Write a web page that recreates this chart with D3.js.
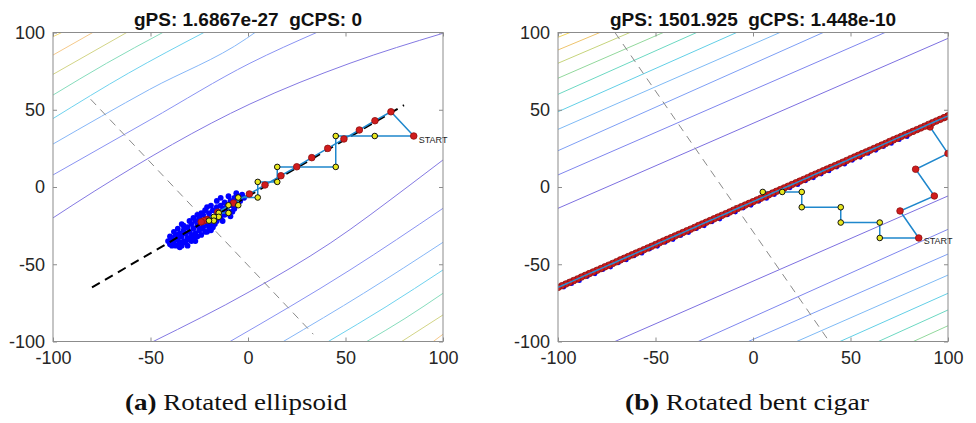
<!DOCTYPE html>
<html>
<head>
<meta charset="utf-8">
<script src="https://cdn.jsdelivr.net/npm/d3@7"></script>
<style>
  body { margin: 0; background: #fff; }
  svg text { font-family: "Liberation Sans", Arial, Helvetica, sans-serif; }
</style>
</head>
<body>
<svg id="chart" width="976" height="423"></svg>
<script>
// ---------- data ----------
const ticks = [-100, -50, 0, 50, 100];

const leftTitle = "gPS: 1.6867e-27  gCPS: 0";
const rightTitle = "gPS: 1501.925  gCPS: 1.448e-10";
const leftCaption = ["(a)", " Rotated ellipsoid"];
const rightCaption = ["(b)", " Rotated bent cigar"];

// contour lines: [level, points]
const leftContours = [
  [0, [[-100, -20], [-78.5, -2.5], [1, 53.7], [52.3, 80.1], [100, 99.5]]],
  [1, [[-100, 7.8], [-50.3, 43.4], [1, 80.1], [35.2, 100]]],
  [2, [[-100, 27.8], [-50.4, 63.2], [-0.7, 96.2], [3.6, 100]]],
  [3, [[-100, 44.3], [-61.4, 73.6], [-22.6, 100]]],
  [4, [[-100, 59.5], [-72.5, 80.1], [-43.7, 100]]],
  [5, [[-100, 72.9], [-62.2, 100]]],
  [6, [[-100, 85.4], [-79.6, 100]]],
  [7, [[-100, 97.3], [-95.5, 100]]],
  [0, [[-48.6, -100], [1, -67.6], [42.1, -36.4], [83.1, 1.3], [100, 17.5]]],
  [1, [[-9.2, -100], [52.3, -53.7], [100, -13.8]]],
  [2, [[18.1, -100], [59.3, -68.8], [100, -35.8]]],
  [3, [[41.2, -100], [70.8, -77.5], [100, -53.7]]],
  [4, [[60.9, -100], [80.5, -85.1], [100, -68.8]]],
  [5, [[78.8, -100], [100, -82.8]]],
  [6, [[95, -100], [100, -95.3]]]
];
const leftColors = ["#8479e2", "#8a93f2", "#86b6f7", "#6fd2ee", "#86dcbc", "#d2d486", "#f5c98a", "#f3dc7a"];

const rightContours = [
  [0, [[-100, -13.8], [100, 96.2]]],
  [1, [[-100, 7.8], [67.7, 100]]],
  [2, [[-100, 23.5], [36, 100]]],
  [3, [[-100, 37.3], [13.8, 100]]],
  [4, [[-100, 48.7], [-8.4, 100]]],
  [5, [[-100, 60], [-28.9, 100]]],
  [6, [[-100, 70.4], [-46, 100]]],
  [7, [[-100, 80.1], [-63.1, 100]]],
  [8, [[-100, 88.7], [-78.5, 100]]],
  [9, [[-100, 96.9], [-93.8, 100]]],
  [0, [[-70.8, -100], [100, -5.8]]],
  [1, [[-28.1, -100], [100, -27.4]]],
  [2, [[-2.4, -100], [100, -43.4]]],
  [3, [[22.4, -100], [100, -57]]],
  [4, [[44.6, -100], [100, -68.8]]],
  [5, [[64.3, -100], [100, -79.6]]],
  [6, [[82.2, -100], [100, -89.8]]]
];
const rightColors = ["#7d70e0", "#7f86ee", "#7e9ff5", "#7ebaf5", "#62cfe6", "#6cd8c2", "#92d89c", "#c6d47c", "#eec46c", "#f2d65c"];

// dashed guide lines
const leftAxisLine = [[-80, -65], [80, 53]];
const leftPerpLine = [[-80.7, 56.8], [33.5, -95.3]];
const rightPerpLine = [[-70.8, 100], [39.1, -100]];

// left: search paths
const leftStart = [85, 33];
const leftRedPath = [[85, 33], [73.3, 48.7], [65.1, 42.9], [57.1, 36.9], [49.2, 31.1], [40.9, 25.0],
  [32.7, 19.0], [25.0, 13.1], [16.9, 7.3], [8.7, 1.3], [0.7, -4.5], [-7.4, -10.4], [-15.5, -16.3],
  [-21, -21], [-22.5, -21.8], [-24, -22.6]];
const leftYellowPath = [[85, 33], [65, 33], [45, 33], [45, 13], [15, 13], [15, 3.3], [5, 3.3], [5, -6.8],
  [-5, -6.8], [-5, -11.8], [-10, -11.8], [-10, -16.8], [-15, -16.8], [-15, -19.3], [-17.5, -19.3],
  [-17.5, -21.8], [-20, -21.8]];
const leftCloud = [
  [-41, -35], [-40, -37], [-39, -33], [-38, -36], [-37, -31], [-37, -38], [-36, -34], [-35, -30],
  [-35, -36], [-34, -32], [-33, -28], [-33, -35], [-32, -30], [-31, -33], [-31, -26], [-30, -29],
  [-29, -31], [-29, -24], [-28, -27], [-27, -30], [-27, -22], [-26, -25], [-26, -32], [-25, -20],
  [-25, -28], [-24, -23], [-23, -26], [-23, -18], [-22, -21], [-21, -29], [-21, -24], [-20, -17],
  [-20, -20], [-19, -23], [-18, -15], [-18, -26], [-17, -19], [-16, -22], [-16, -13], [-15, -17],
  [-14, -20], [-14, -12], [-13, -15], [-12, -18], [-12, -10], [-11, -13], [-10, -16], [-9, -9],
  [-8, -12], [-7, -7], [-7, -14], [-6, -10], [-5, -6], [-4, -9], [-3, -5], [-36, -33], [-30, -34],
  [-24, -27], [-33, -25], [-28, -20], [-39, -38], [-34, -38], [-32, -36], [-29, -35], [-19, -12],
  [-22, -15], [-26, -18], [-36, -27], [-34, -24], [-30, -22], [-28, -33], [-24, -31], [-22, -29],
  [-20, -26], [-17, -24], [-24, -17], [-21, -13], [-14, -7], [-10, -6], [-13, -22], [-9, -19],
  [-38, -29], [-40, -32], [-35, -39], [-31, -38], [-27, -35], [-19, -28], [-16, -9], [-12, -14],
  [-8, -16], [-6, -4], [-2, -7]
];

// right: search paths
const rightStart = [85, -33];
const rightRedPath = [[85, -33], [75.4, -15.5], [93, -5.8], [83.4, 11.5], [100, 21.7], [90.8, 38.9], [100, 46]];
const rightChain = [
  [100, 46.0], [98, 44.9], [96, 43.8], [94, 42.7], [92, 41.6], [90, 40.5], [88, 39.3], [86, 38.2],
  [84, 37.1], [82, 36.0], [80, 34.9], [78, 33.8], [76, 32.7], [74, 31.6], [72, 30.5], [70, 29.4],
  [68, 28.2], [66, 27.1], [64, 26.0], [62, 24.9], [60, 23.8], [58, 22.7], [56, 21.6], [54, 20.5],
  [52, 19.4], [50, 18.3], [48, 17.1], [46, 16.0], [44, 14.9], [42, 13.8], [40, 12.7], [38, 11.6],
  [36, 10.5], [34, 9.4], [32, 8.3], [30, 7.2], [28, 6.0], [26, 4.9], [24, 3.8], [22, 2.7],
  [20, 1.6], [18, 0.5], [16, -0.6], [14, -1.7], [12, -2.8], [10, -3.9], [8, -5.1], [6, -6.2],
  [4, -7.3], [2, -8.4], [0, -9.5], [-2, -10.6], [-4, -11.7], [-6, -12.8], [-8, -13.9], [-10, -15.0],
  [-12, -16.2], [-14, -17.3], [-16, -18.4], [-18, -19.5], [-20, -20.6], [-22, -21.7], [-24, -22.8],
  [-26, -23.9], [-28, -25.0], [-30, -26.2], [-32, -27.3], [-34, -28.4], [-36, -29.5], [-38, -30.6],
  [-40, -31.7], [-42, -32.8], [-44, -33.9], [-46, -35.0], [-48, -36.1], [-50, -37.3], [-52, -38.4],
  [-54, -39.5], [-56, -40.6], [-58, -41.7], [-60, -42.8], [-62, -43.9], [-64, -45.0], [-66, -46.1],
  [-68, -47.2], [-70, -48.4], [-72, -49.5], [-74, -50.6], [-76, -51.7], [-78, -52.8], [-80, -53.9],
  [-82, -55.0], [-84, -56.1], [-86, -57.2], [-88, -58.3], [-90, -59.5], [-92, -60.6], [-94, -61.7],
  [-96, -62.8], [-98, -63.9], [-100, -65.0]
];
const rightYellowPath = [[85, -33], [65, -33], [65, -23], [45, -23], [45, -13.1], [25, -13.1],
  [25, -3.2], [15, -3.2], [5, -3.2]];
const rightCloud = [
  [-97, -64.8], [-93, -62.6], [-89, -60.6], [-85, -58.0], [-81, -56.2], [-77, -53.5], [-73, -51.8],
  [-69, -49.1], [-65, -47.2], [-61, -44.6], [-57, -42.8], [-53, -40.2], [-49, -38.4], [-45, -35.8],
  [-41, -34.0], [-37, -31.4], [-33, -29.5], [-29, -27.0], [-25, -25.1], [-21, -22.5], [-17, -20.7],
  [-13, -18.0], [-9, -16.2], [-5, -13.6], [-1, -11.8], [3, -9.3], [7, -7.4], [11, -4.9], [15, -3.0],
  [19, -0.5], [23, 1.5], [27, 4.0], [31, 6.0], [35, 8.4], [39, 10.4], [43, 12.9], [47, 14.8],
  [51, 17.3], [55, 19.2], [59, 21.7], [63, 23.8], [67, 26.2], [71, 28.2], [75, 30.6], [79, 32.6]
];

// ---------- layout ----------
const plotTop = 32.5, plotBottom = 341.5, plotW = 390;
const svg = d3.select("#chart");

function drawPanel(o) {
  const x = d3.scaleLinear().domain([-100, 100]).range([o.left, o.left + plotW]);
  const y = d3.scaleLinear().domain([-100, 100]).range([plotBottom, plotTop]);
  const line = d3.line().x(d => x(d[0])).y(d => y(d[1]));
  const smooth = d3.line().x(d => x(d[0])).y(d => y(d[1])).curve(d3.curveMonotoneX);

  svg.append("clipPath").attr("id", "clip-" + o.id)
    .append("rect")
      .attr("x", o.left).attr("y", plotTop)
      .attr("width", plotW).attr("height", plotBottom - plotTop);

  const plot = svg.append("g").attr("clip-path", `url(#clip-${o.id})`);

  // contours
  plot.selectAll(".contour")
    .data(o.contours)
    .join("path")
      .attr("class", "contour")
      .attr("d", d => smooth(d[1]))
      .attr("fill", "none")
      .attr("stroke", d => o.colors[d[0]])
      .attr("stroke-width", 1);

  // gray dashed perpendicular
  plot.append("path")
    .attr("d", line(o.perp))
    .attr("fill", "none")
    .attr("stroke", "#8a8a8a")
    .attr("stroke-width", 1)
    .attr("stroke-dasharray", "8,6");

  // blue sample cloud
  plot.selectAll(".cloud")
    .data(o.cloud)
    .join("circle")
      .attr("class", "cloud")
      .attr("cx", d => x(d[0]))
      .attr("cy", d => y(d[1]))
      .attr("r", o.cloudR)
      .attr("fill", "#0000ff");

  // black dashed main axis
  if (o.axisLine) {
    plot.append("path")
      .attr("d", line(o.axisLine))
      .attr("fill", "none")
      .attr("stroke", "#000")
      .attr("stroke-width", 2)
      .attr("stroke-dasharray", "9,6");
  }

  // search paths
  [o.redPath, o.yellowPath].forEach(p => {
    plot.append("path")
      .attr("d", line(p))
      .attr("fill", "none")
      .attr("stroke", "#1f87cc")
      .attr("stroke-width", 1.5);
  });

  // red markers
  plot.selectAll(".red")
    .data(o.redPoints)
    .join("circle")
      .attr("class", "red")
      .attr("cx", d => x(d[0]))
      .attr("cy", d => y(d[1]))
      .attr("r", 3.3)
      .attr("fill", "#d01c1c")
      .attr("stroke", "#8e1010")
      .attr("stroke-width", 0.8);

  // chain line drawn over red points (right panel)
  if (o.chainLine) {
    plot.append("path")
      .attr("d", line(o.chainLine))
      .attr("fill", "none")
      .attr("stroke", "#2a8fd2")
      .attr("stroke-width", 1.5);
  }

  // yellow markers
  plot.selectAll(".yellow")
    .data(o.yellowPath.slice(1))
    .join("circle")
      .attr("class", "yellow")
      .attr("cx", d => x(d[0]))
      .attr("cy", d => y(d[1]))
      .attr("r", 2.8)
      .attr("fill", "#e8e81e")
      .attr("stroke", "#111")
      .attr("stroke-width", 1);

  // START label
  svg.append("text")
    .attr("x", x(o.start[0]) + 5)
    .attr("y", y(o.start[1]) + 6.5)
    .attr("font-size", 9)
    .attr("fill", "#222")
    .text("START");

  // axes (MATLAB-like: inward ticks on all four sides)
  const styleAxis = g => {
    g.select(".domain").remove();
    g.selectAll("line").attr("stroke", "#8c8c8c");
    g.selectAll("text").attr("fill", "#262626");
    g.attr("font-size", 18).attr("font-family", null);
  };
  svg.append("g")
    .attr("transform", `translate(0,${plotBottom})`)
    .call(d3.axisBottom(x).tickValues(ticks).tickFormat(d => String(d))
      .tickSizeInner(-4).tickSizeOuter(0).tickPadding(10))
    .call(styleAxis);
  svg.append("g")
    .attr("transform", `translate(${o.left},0)`)
    .call(d3.axisLeft(y).tickValues(ticks).tickFormat(d => String(d))
      .tickSizeInner(-4).tickSizeOuter(0).tickPadding(8))
    .call(styleAxis);
  svg.append("g")
    .attr("transform", `translate(0,${plotTop})`)
    .call(d3.axisTop(x).tickValues(ticks).tickSizeInner(-4).tickSizeOuter(0).tickFormat(""))
    .call(styleAxis);
  svg.append("g")
    .attr("transform", `translate(${o.left + plotW},0)`)
    .call(d3.axisRight(y).tickValues(ticks).tickSizeInner(-4).tickSizeOuter(0).tickFormat(""))
    .call(styleAxis);

  svg.append("rect")
    .attr("x", o.left).attr("y", plotTop)
    .attr("width", plotW).attr("height", plotBottom - plotTop)
    .attr("fill", "none")
    .attr("stroke", "#8c8c8c")
    .attr("stroke-width", 1);

  // title
  svg.append("text")
    .attr("x", o.left + plotW / 2)
    .attr("y", 26)
    .attr("text-anchor", "middle")
    .attr("font-size", 19)
    .attr("font-weight", "bold")
    .attr("fill", "#111")
    .style("white-space", "pre")
    .text(o.title);

  // caption
  const cap = svg.append("text")
    .attr("x", o.capX)
    .attr("y", 410)
    .attr("text-anchor", "middle")
    .attr("font-size", 23)
    .attr("textLength", o.capW)
    .attr("lengthAdjust", "spacingAndGlyphs")
    .attr("fill", "#111")
    .style("font-family", "'Liberation Serif', 'Times New Roman', serif")
    .style("white-space", "pre");
  cap.append("tspan").attr("font-weight", "bold").text(o.caption[0]);
  cap.append("tspan").text(o.caption[1]);
}

drawPanel({
  id: "a", left: 53, title: leftTitle, caption: leftCaption, capX: 236, capW: 222,
  contours: leftContours, colors: leftColors, perp: leftPerpLine, axisLine: leftAxisLine,
  cloud: leftCloud, cloudR: 2.9, redPath: leftRedPath, yellowPath: leftYellowPath,
  redPoints: leftRedPath, start: leftStart
});

drawPanel({
  id: "b", left: 558, title: rightTitle, caption: rightCaption, capX: 747, capW: 244,
  contours: rightContours, colors: rightColors, perp: rightPerpLine, axisLine: null,
  cloud: rightCloud, cloudR: 2.4, redPath: rightRedPath, yellowPath: rightYellowPath,
  redPoints: rightRedPath.concat(rightChain), chainLine: rightChain, start: rightStart
});
</script>
</body>
</html>
